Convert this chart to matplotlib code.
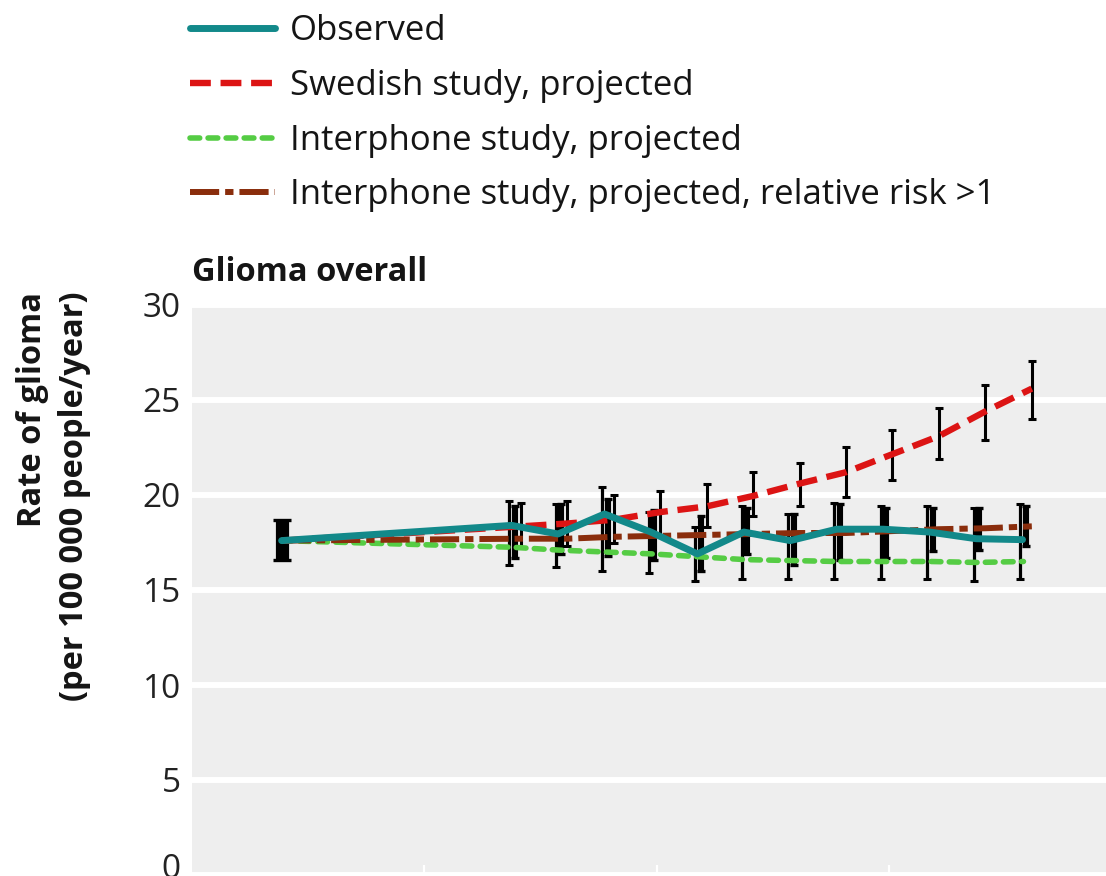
import matplotlib
matplotlib.use("Agg")
import matplotlib.pyplot as plt
import matplotlib.transforms as mtransforms
import numpy as np

plt.rcParams["font.family"] = ["Open Sans", "DejaVu Sans"]
plt.rcParams["lines.scale_dashes"] = False

# ---- data -------------------------------------------------------------
years = [1992, 1997, 1998, 1999, 2000, 2001, 2002, 2003, 2004, 2005, 2006, 2007, 2008]

observed = [17.6, 18.4, 17.95, 19.0, 18.05, 16.9, 18.05, 17.6, 18.2, 18.2, 18.05, 17.7, 17.65]
swedish = [17.6, 18.35, 18.5, 18.7, 19.1, 19.4, 19.95, 20.6, 21.2, 22.15, 23.1, 24.4, 25.6]
interphone = [17.6, 17.25, 17.1, 17.0, 16.9, 16.75, 16.6, 16.55, 16.5, 16.5, 16.5, 16.45, 16.5]
interphone_rr = [17.6, 17.7, 17.7, 17.8, 17.85, 17.9, 17.95, 18.0, 18.0, 18.1, 18.2, 18.25, 18.35]

# baseline (1992) interval
baseline_ci = (16.6, 18.7)

# 95% intervals, 1997-2008
ci_years = years[1:]
wide_lo = [16.3, 16.2, 16.0, 15.9, 15.5, 15.6, 15.6, 15.6, 15.6, 15.6, 15.5, 15.6]
wide_hi = [19.7, 19.5, 20.4, 19.1, 18.3, 19.4, 19.0, 19.6, 19.4, 19.4, 19.3, 19.5]
obs_lo = [16.7, 16.9, 16.8, 16.6, 16.0, 16.9, 16.3, 16.6, 16.7, 17.05, 17.1, 17.3]
obs_hi = [19.4, 19.5, 19.8, 19.2, 18.9, 19.3, 19.0, 19.5, 19.3, 19.3, 19.3, 19.4]
swedish_lo = [17.2, 17.3, 17.5, 17.9, 18.3, 18.9, 19.4, 19.9, 20.8, 21.9, 22.9, 24.0]
swedish_hi = [19.6, 19.7, 20.0, 20.2, 20.6, 21.2, 21.7, 22.5, 23.4, 24.6, 25.8, 27.05]

y_ticks = [0, 5, 10, 15, 20, 25, 30]
x_ticks = [1995, 2000, 2005]

legend_labels = [
    "Observed",
    "Swedish study, projected",
    "Interphone study, projected",
    "Interphone study, projected, relative risk >1",
]

# ---- style ------------------------------------------------------------
TEAL = "#12898a"
RED = "#dc1414"
GREEN = "#55cc44"
BROWN = "#8a2d0c"
PANEL = "#eeeeee"
INK = "#151515"

W, H = 1106, 876
fig = plt.figure(figsize=(W / 100, H / 100), dpi=100)
ax = fig.add_axes([192 / W, 1 / H, 929 / W, 570 / H])
ax.set_facecolor(PANEL)
ax.set_xlim(1990, 2010)
ax.set_ylim(0, 30)

for s in ax.spines.values():
    s.set_visible(False)

ax.set_yticks(y_ticks)
ax.set_yticklabels([str(v) for v in y_ticks])
ax.yaxis.grid(True, color="white", linewidth=4.3)
ax.set_axisbelow(True)
ax.tick_params(axis="y", length=0, pad=8, labelsize=24, labelcolor="#222222")
ax.set_xticks(x_ticks)
ax.set_xticklabels([])
ax.tick_params(axis="x", direction="in", length=7.5, width=1.6, color="white")

# lift the bottom label a little so it stays inside the canvas
zero_label = ax.yaxis.get_major_ticks()[0].label1
zero_label.set_transform(zero_label.get_transform()
                         + mtransforms.ScaledTranslation(0, 9 / 100, fig.dpi_scale_trans))


def shift(xs, d):
    return np.asarray(xs, dtype=float) + d


def draw_interval(x, lo, hi, lw, cap, capthick, z=3):
    lo = np.asarray(lo, dtype=float)
    hi = np.asarray(hi, dtype=float)
    mid = (lo + hi) / 2
    ax.errorbar(x, mid, yerr=[mid - lo, hi - mid], fmt="none", ecolor="black",
                elinewidth=lw, capsize=cap, capthick=capthick, zorder=z)


# interval bars
draw_interval(shift(ci_years, -0.17), wide_lo, wide_hi, 2.3, 3.0, 2.2)
draw_interval(shift(ci_years, -0.05), obs_lo, obs_hi, 4.4, 3.0, 2.4)
draw_interval(shift(ci_years, 0.08), swedish_lo, swedish_hi, 2.2, 3.0, 2.2)
draw_interval([years[0] - 0.07], [baseline_ci[0]], [baseline_ci[1]], 9.5, 6.8, 2.4)

# projection and observed lines
x_green = shift(years, -0.1)
x_green[0] = years[0] - 0.07
x_brown = shift(years, 0.08)
x_brown[0] = years[0] - 0.07
x_red = shift(years, 0.08)
x_red[0] = years[0] - 0.07
x_teal = shift(years, -0.12)
x_teal[0] = years[0] - 0.07

l_green, = ax.plot(x_green, interphone, color=GREEN, lw=4.0, dashes=(7.0, 6.0),
                   dash_capstyle="round", zorder=4)
l_brown, = ax.plot(x_brown, interphone_rr, color=BROWN, lw=4.3,
                   dashes=(21.0, 4.3, 6.0, 4.3), zorder=4)
l_red, = ax.plot(x_red, swedish, color=RED, lw=4.6, dashes=(15.0, 7.0), zorder=5)
l_teal, = ax.plot(x_teal, observed, color=TEAL, lw=5.0, solid_capstyle="round",
                  solid_joinstyle="round", zorder=6)

ax.set_title("Glioma overall", loc="left", fontweight="bold", fontsize=23.5, pad=17,
             color=INK)

fig.text(33 / W, 1 - 292 / H, "Rate of glioma", rotation=90, ha="center", va="top",
         fontweight="bold", fontsize=23.5, color=INK)
fig.text(75 / W, 1 - 292 / H, "(per 100 000 people/year)", rotation=90, ha="center",
         va="top", fontweight="bold", fontsize=23.5, color=INK)

fig.legend([l_teal, l_red, l_green, l_brown], legend_labels, loc="upper left",
           bbox_to_anchor=(190 / W, 1 - 14 / H), frameon=False, fontsize=25,
           handlelength=2.45, handletextpad=0.43, labelspacing=0.6,
           borderaxespad=0, borderpad=0, labelcolor=INK)

fig.savefig("out.png", dpi=100, facecolor="white")
